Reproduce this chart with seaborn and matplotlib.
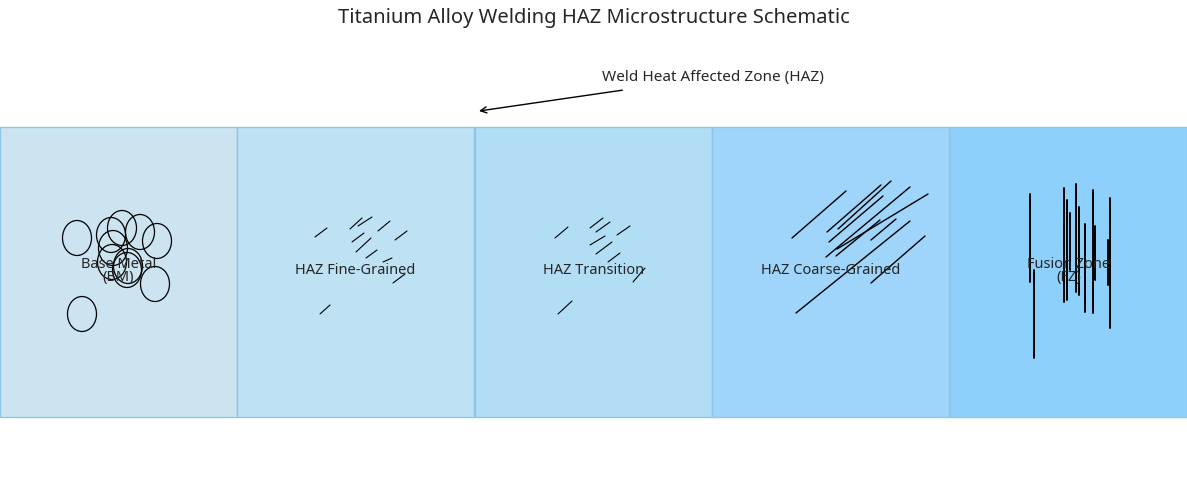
import matplotlib
matplotlib.use("Agg")
import matplotlib.pyplot as plt
import seaborn as sns
from matplotlib.patches import Rectangle, Ellipse

sns.set_style("white")
plt.rcParams["font.family"] = ["Noto Sans", "DejaVu Sans"]

# zones (pixel layout of the schematic)
zone_names = ["Base Metal\n(BM)", "HAZ Fine-Grained", "HAZ Transition",
              "HAZ Coarse-Grained", "Fusion Zone\n(FZ)"]
zone_colors = ["#cce4f0", "#bfe1f4", "#b1def5", "#9fd5fa", "#8dd0fc"]
zone_left = [0, 237, 475, 712, 950]
zone_width = 237

# base metal grains: centre x, centre y
bm_grains_x = [77, 111, 122, 140, 157, 113, 112, 127, 128, 155, 82]
bm_grains_y = [238, 235, 228, 232, 241, 248, 262, 270, 266, 284, 314]

# needle segments: (x0, y0, x1, y1)
fine_lines = [(315, 237, 327, 228), (350, 229, 362, 218), (358, 226, 372, 217),
              (378, 231, 390, 221), (395, 240, 407, 231), (352, 242, 364, 233),
              (356, 252, 371, 238), (366, 258, 377, 250), (383, 262, 392, 258),
              (393, 283, 405, 274), (320, 314, 330, 305)]
trans_lines = [(555, 238, 568, 227), (590, 228, 603, 218), (596, 232, 610, 222),
               (617, 235, 630, 226), (590, 245, 605, 236), (596, 254, 612, 242),
               (608, 262, 620, 253), (633, 282, 645, 268), (558, 314, 572, 301)]
coarse_lines = [(792, 238, 846, 191), (827, 232, 881, 185), (838, 229, 891, 181),
                (829, 242, 883, 196), (836, 256, 880, 220), (826, 257, 910, 187),
                (837, 249, 928, 194), (871, 240, 896, 219), (796, 313, 910, 221),
                (871, 283, 925, 236)]
# fusion zone columnar grains: x, y top, y bottom
fz_x = [1030, 1034, 1064, 1067, 1070, 1076, 1079, 1085, 1093, 1095, 1110, 1108]
fz_top = [194, 270, 188, 200, 213, 184, 207, 224, 190, 226, 198, 240]
fz_bot = [282, 358, 302, 300, 270, 292, 295, 312, 313, 280, 328, 285]

fig = plt.figure(figsize=(11.87, 5.0), dpi=100)
ax = fig.add_axes([0, 0, 1, 1])
ax.set_xlim(0, 1187)
ax.set_ylim(500, 0)
ax.axis("off")

for name, col, x0 in zip(zone_names, zone_colors, zone_left):
    ax.add_patch(Rectangle((x0, 127), zone_width, 290, facecolor=col,
                           edgecolor="#8ec6e6", lw=1))
    ax.text(x0 + zone_width / 2, 271, name, ha="center", va="center",
            fontsize=10.5, linespacing=0.9, zorder=5)

for gx, gy in zip(bm_grains_x, bm_grains_y):
    ax.add_patch(Ellipse((gx, gy), 29, 35, fill=False, edgecolor="black", lw=0.9))

for seg, lw in [(fine_lines, 0.8), (trans_lines, 0.8), (coarse_lines, 1.0)]:
    for x0, y0, x1, y1 in seg:
        ax.plot([x0, x1], [y0, y1], color="black", lw=lw)

for x, t, b in zip(fz_x, fz_top, fz_bot):
    ax.plot([x, x], [t, b], color="black", lw=1.4)

ax.text(593.5, 18, "Titanium Alloy Welding HAZ Microstructure Schematic",
        ha="center", va="center", fontsize=14.5)
ax.annotate("Weld Heat Affected Zone (HAZ)", xy=(479, 111), xytext=(713, 77),
            ha="center", va="center", fontsize=11,
            arrowprops=dict(arrowstyle="->", color="black", lw=1,
                            shrinkA=12, shrinkB=0))

fig.savefig("out.png", dpi=100)
